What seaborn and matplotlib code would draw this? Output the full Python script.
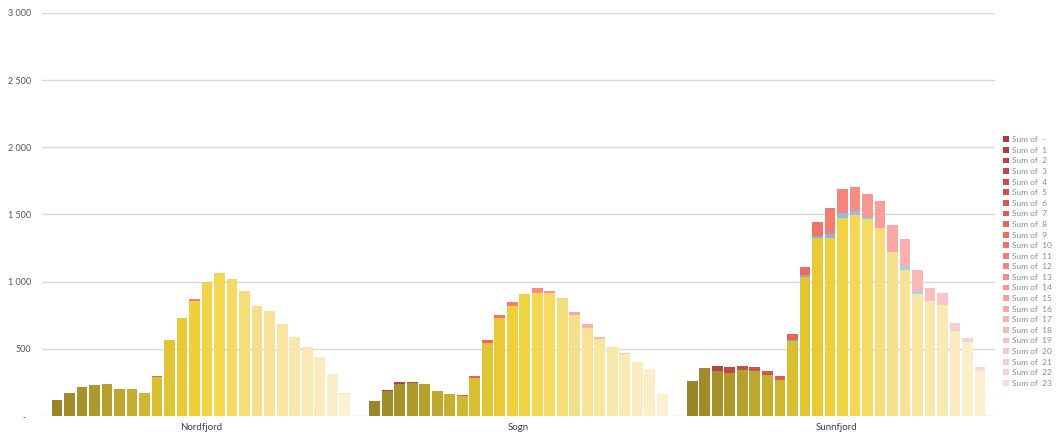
import pandas as pd
import matplotlib.pyplot as plt
import seaborn as sns
from matplotlib.colors import LinearSegmentedColormap

# data (three stacked parts per hour)
regions = ["Nordfjord", "Sogn", "Sunnfjord"]
hours = ["-"] + [str(h) for h in range(1, 24)]
series = ["Sum of  " + h for h in hours]

nordfjord_base = [121, 174, 214, 228, 236, 199, 204, 174, 293, 564, 730, 859,
                  1000, 1063, 1018, 929, 822, 785, 688, 591, 514, 437, 313, 164]
nordfjord_blue = [0, 0, 0, 0, 0, 0, 0, 0, 0, 0, 0, 0,
                  0, 0, 5, 0, 0, 0, 0, 0, 0, 0, 0, 0]
nordfjord_red = [0, 0, 0, 0, 0, 0, 0, 0, 5, 0, 0, 10,
                 0, 0, 0, 0, 0, 0, 0, 0, 0, 0, 0, 10]

sogn_base = [109, 185, 241, 243, 241, 184, 162, 151, 280, 546, 728, 817,
             906, 918, 915, 877, 754, 652, 576, 510, 461, 404, 352, 166]
sogn_blue = [0, 0, 0, 0, 0, 0, 0, 0, 0, 0, 0, 0,
             0, 0, 0, 0, 0, 6, 0, 0, 0, 0, 0, 0]
sogn_red = [5, 6, 10, 8, 0, 5, 4, 3, 18, 22, 22, 30,
            0, 38, 14, 0, 18, 30, 15, 6, 8, 0, 0, 0]

sunnfjord_base = [258, 360, 337, 318, 340, 337, 305, 266, 559, 1035, 1328, 1328,
                  1476, 1496, 1470, 1396, 1222, 1086, 907, 857, 825, 631, 551, 337]
sunnfjord_blue = [0, 0, 0, 0, 0, 0, 0, 5, 8, 15, 12, 30,
                  32, 32, 8, 0, 0, 30, 20, 0, 0, 10, 0, 0]
sunnfjord_red = [0, 0, 37, 44, 34, 25, 32, 25, 46, 60, 105, 187,
                 182, 173, 174, 204, 199, 205, 163, 99, 87, 52, 30, 28]

bases = [nordfjord_base, sogn_base, sunnfjord_base]
blues = [nordfjord_blue, sogn_blue, sunnfjord_blue]
reds = [nordfjord_red, sogn_red, sunnfjord_red]

rows = []
for region, base, blue, red in zip(regions, bases, blues, reds):
    for s, b, bl, r in zip(series, base, blue, red):
        rows.append({"region": region, "series": s, "base": b, "blue": bl, "red": r})
df = pd.DataFrame(rows)
df["base_blue"] = df["base"] + df["blue"]
df["total"] = df["base_blue"] + df["red"]


def ramp(stops):
    cmap = LinearSegmentedColormap.from_list("ramp", stops)
    return [cmap(i / 23) for i in range(24)]


red_pal = ramp([(0, "#a83c3c"), (5 / 23, "#d0504a"), (9 / 23, "#ee6a5c"),
                (12 / 23, "#f6867c"), (16 / 23, "#f9a8a6"), (20 / 23, "#fbc6c8"),
                (1, "#fcdadb")])
blue_pal = ramp([(0, "#4f7fb5"), (0.5, "#8fbadf"), (1, "#cfe2f1")])
gold_pal = ramp([(0, "#9a8528"), (4 / 23, "#b5a02d"), (8 / 23, "#d8bf32"),
                 (11 / 23, "#efd038"), (13 / 23, "#f4d852"), (16 / 23, "#f6df8a"),
                 (20 / 23, "#f9eab4"), (1, "#fbf1d2")])

sns.set_theme(style="white")
plt.rcParams["font.family"] = ["Lato", "DejaVu Sans"]

fig, ax = plt.subplots(figsize=(10.61, 4.36), dpi=100)
fig.subplots_adjust(left=42 / 1061, right=995 / 1061,
                    bottom=1 - 416 / 436, top=1 - 13 / 436)

# stacked look: draw totals first, then cover with lower parts
for col, pal, leg in [("total", red_pal, True),
                      ("base_blue", blue_pal, False),
                      ("base", gold_pal, False)]:
    sns.barplot(data=df, x="region", y=col, hue="series", hue_order=series,
                order=regions, palette=pal, width=0.945, gap=0.14,
                saturation=1, errorbar=None, legend=leg, linewidth=0, ax=ax)

ax.set_ylim(0, 3000)
ticks = list(range(0, 3001, 500))
ax.set_yticks(ticks)
ax.set_yticklabels(["-  " if t == 0 else f"{t:,}".replace(",", " ") for t in ticks])
ax.set_xlim(-0.5, 2.5)
ax.set_xlabel("")
ax.set_ylabel("")
ax.set_axisbelow(True)
ax.grid(axis="y", color="#d9d9d9", linewidth=1)
sns.despine(ax=ax, left=True, bottom=True)
ax.tick_params(axis="y", length=0, labelsize=6.5, colors="#595959", pad=8)
ax.tick_params(axis="x", length=0, labelsize=7, colors="#404040", pad=5)

old = ax.get_legend()
handles = old.legend_handles
labels = [t.get_text() for t in old.get_texts()]
old.remove()
leg = ax.legend(handles, labels, loc="center left",
                bbox_to_anchor=(1003 / 1061, 1 - 261.5 / 436),
                bbox_transform=fig.transFigure, frameon=False,
                fontsize=6, handlelength=0.7, handleheight=0.7,
                handletextpad=0.4, labelspacing=0.43, borderpad=0,
                borderaxespad=0)
for t in leg.get_texts():
    t.set_color("#8c8c8c")

plt.savefig("out.png", dpi=100)
